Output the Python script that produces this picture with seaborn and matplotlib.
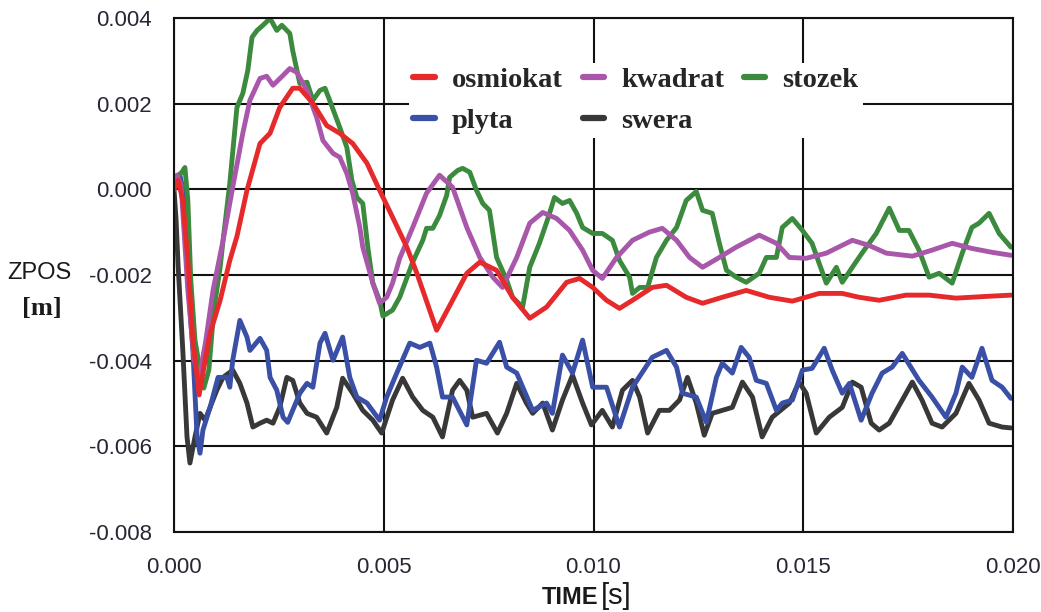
import numpy as np
import pandas as pd
import matplotlib
matplotlib.use("Agg")
import matplotlib.pyplot as plt
import seaborn as sns
from matplotlib.ticker import FormatStrFormatter, MultipleLocator

# Vertical position of each body over time (time in ms, position in mm)
osmiokat_t = [0, 0.1, 0.21, 0.33, 0.45, 0.6, 0.74, 0.86, 1.1, 1.33, 1.5, 1.74, 2.05, 2.29, 2.52,
              2.83, 3.0, 3.31, 3.64, 3.95, 4.26, 4.6, 4.9, 5.21, 5.55, 5.79, 6.26, 6.64, 6.98,
              7.29, 7.69, 8.07, 8.48, 8.88, 9.36, 9.67, 9.98, 10.31, 10.62, 10.93, 11.4, 11.74,
              12.21, 12.6, 13.07, 13.64, 14.19, 14.74, 15.38, 15.93, 16.33, 16.81, 17.45, 18.0,
              18.64, 19.36, 19.95]
osmiokat_z = [0, 0.21, -0.26, -1.66, -3.52, -4.8, -4.0, -3.36, -2.59, -1.66, -1.1, -0.02, 1.07,
              1.31, 1.91, 2.36, 2.36, 2.01, 1.49, 1.31, 1.07, 0.61, -0.02, -0.65, -1.35, -1.96,
              -3.29, -2.59, -1.96, -1.70, -1.89, -2.52, -3.01, -2.75, -2.17, -2.08, -2.29, -2.59,
              -2.78, -2.59, -2.29, -2.24, -2.52, -2.66, -2.52, -2.36, -2.52, -2.61, -2.43, -2.43,
              -2.52, -2.59, -2.47, -2.47, -2.54, -2.50, -2.47]

kwadrat_t = [0, 0.07, 0.17, 0.33, 0.48, 0.6, 0.76, 0.93, 1.17, 1.4, 1.64, 1.81, 2.05, 2.21, 2.36,
             2.6, 2.76, 2.93, 3.17, 3.4, 3.55, 3.79, 3.95, 4.12, 4.26, 4.43, 4.5, 4.74, 4.9, 5.07,
             5.21, 5.38, 5.69, 6.02, 6.33, 6.64, 6.98, 7.29, 7.6, 7.83, 8.17, 8.48, 8.79, 9.12,
             9.43, 9.74, 9.98, 10.21, 10.55, 10.93, 11.33, 11.64, 11.98, 12.29, 12.6, 13.0, 13.4,
             13.95, 14.36, 14.67, 15.07, 15.55, 16.17, 16.57, 16.98, 17.6, 18.07, 18.55, 19.02,
             19.5, 19.95]
kwadrat_z = [0, 0.33, 0.09, -2.36, -3.99, -4.41, -3.52, -2.36, -1.19, 0.05, 1.31, 2.08, 2.59,
             2.64, 2.43, 2.66, 2.82, 2.73, 2.31, 1.68, 1.14, 0.84, 0.75, 0.37, -0.09, -0.89,
             -1.35, -2.19, -2.66, -2.52, -2.19, -1.61, -0.89, -0.09, 0.33, 0.05, -0.89, -1.59,
             -2.05, -2.29, -1.59, -0.79, -0.54, -0.68, -0.96, -1.42, -1.89, -2.08, -1.59, -1.19,
             -1.0, -0.91, -1.19, -1.59, -1.82, -1.59, -1.35, -1.07, -1.26, -1.59, -1.61, -1.49,
             -1.19, -1.31, -1.49, -1.56, -1.42, -1.26, -1.38, -1.47, -1.54]

stozek_t = [0, 0.1, 0.19, 0.26, 0.33, 0.4, 0.5, 0.62, 0.71, 0.83, 0.95, 1.1, 1.17, 1.33, 1.5,
            1.64, 1.76, 1.86, 1.98, 2.12, 2.29, 2.45, 2.57, 2.76, 2.83, 2.93, 3.0, 3.17, 3.31,
            3.48, 3.6, 3.71, 3.95, 4.12, 4.24, 4.36, 4.5, 4.62, 4.74, 4.9, 4.98, 5.21, 5.38,
            5.69, 5.93, 6.02, 6.17, 6.33, 6.5, 6.57, 6.76, 6.88, 7.05, 7.21, 7.36, 7.52, 7.69,
            7.93, 8.07, 8.31, 8.48, 8.71, 8.9, 9.07, 9.26, 9.43, 9.6, 9.74, 9.98, 10.21, 10.45,
            10.62, 10.86, 10.93, 11.1, 11.29, 11.5, 11.74, 11.98, 12.21, 12.45, 12.6, 12.83,
            13.0, 13.17, 13.4, 13.64, 13.95, 14.12, 14.36, 14.5, 14.74, 14.98, 15.21, 15.38,
            15.55, 15.79, 15.93, 16.17, 16.4, 16.74, 17.05, 17.29, 17.52, 17.76, 18.0, 18.24,
            18.55, 18.79, 19.02, 19.19, 19.43, 19.67, 19.95]
stozek_z = [0, 0.33, 0.4, 0.51, -0.26, -2.12, -3.52, -4.22, -4.64, -4.22, -2.82, -1.82, -1.19,
            0.14, 1.91, 2.24, 2.78, 3.55, 3.71, 3.83, 3.99, 3.71, 3.83, 3.64, 3.24, 2.78, 2.47,
            2.5, 2.08, 2.31, 2.36, 2.08, 1.45, 0.98, 0.21, -0.19, -0.33, -1.35, -2.19, -2.59,
            -2.96, -2.82, -2.52, -1.70, -1.19, -0.91, -0.91, -0.61, -0.14, 0.28, 0.44, 0.49,
            0.40, -0.02, -0.33, -0.49, -1.59, -2.12, -2.52, -2.75, -1.82, -1.26, -0.72, -0.19,
            -0.33, -0.26, -0.56, -0.89, -1.03, -1.03, -1.19, -1.66, -2.05, -2.43, -2.29, -2.29,
            -1.59, -1.19, -0.89, -0.26, -0.05, -0.49, -0.56, -1.26, -1.89, -2.05, -2.17, -1.96,
            -1.59, -1.59, -0.89, -0.68, -0.96, -1.26, -1.73, -2.19, -1.82, -2.17, -1.82, -1.49,
            -1.03, -0.44, -0.96, -0.96, -1.42, -2.05, -1.96, -2.19, -1.49, -0.89, -0.79, -0.56,
            -1.03, -1.35]

plyta_t = [0, 0.07, 0.14, 0.24, 0.33, 0.45, 0.55, 0.62, 0.69, 0.86, 1.05, 1.26, 1.33, 1.4,
           1.57, 1.74, 1.81, 2.05, 2.21, 2.29, 2.45, 2.6, 2.71, 3.0, 3.17, 3.31, 3.48, 3.6,
           3.79, 4.02, 4.19, 4.36, 4.6, 4.9, 5.07, 5.31, 5.62, 5.86, 6.1, 6.26, 6.4, 6.64, 6.98,
           7.21, 7.45, 7.76, 7.93, 8.17, 8.55, 8.88, 9.02, 9.26, 9.5, 9.74, 9.98, 10.31, 10.62,
           10.93, 11.4, 11.74, 11.98, 12.12, 12.45, 12.69, 12.93, 13.07, 13.31, 13.52, 13.71,
           13.88, 14.12, 14.36, 14.5, 14.74, 14.98, 15.21, 15.5, 15.69, 15.93, 16.1, 16.38,
           16.64, 16.88, 17.12, 17.36, 17.76, 18.07, 18.4, 18.64, 18.79, 19.02, 19.26, 19.5,
           19.74, 19.95]
plyta_z = [0, 0.21, 0.33, -0.14, -2.12, -3.76, -5.78, -6.16, -5.62, -5.09, -4.39, -4.39, -4.62,
           -3.99, -3.06, -3.45, -3.76, -3.48, -3.76, -4.39, -4.69, -5.32, -5.44, -4.76, -4.53,
           -4.62, -3.59, -3.36, -3.99, -3.45, -4.39, -4.85, -4.99, -5.39, -4.85, -4.29, -3.59,
           -3.69, -3.59, -4.15, -4.85, -4.85, -5.50, -3.99, -4.06, -3.57, -4.15, -4.29, -5.16,
           -4.99, -5.23, -3.87, -4.29, -3.52, -4.62, -4.62, -5.55, -4.62, -3.92, -3.76, -4.15,
           -4.76, -4.85, -5.44, -4.39, -4.06, -4.29, -3.69, -3.92, -4.46, -4.53, -5.16, -4.99,
           -4.92, -4.22, -4.18, -3.71, -4.22, -4.76, -4.53, -5.39, -4.76, -4.29, -4.15, -3.83,
           -4.46, -4.85, -5.32, -4.76, -4.15, -4.39, -3.71, -4.46, -4.62, -4.88]

swera_t = [0, 0.05, 0.1, 0.21, 0.31, 0.38, 0.5, 0.62, 0.74, 0.86, 1.02, 1.17, 1.4, 1.57, 1.74,
           1.88, 2.05, 2.21, 2.36, 2.52, 2.69, 2.83, 3.0, 3.17, 3.4, 3.64, 3.88, 4.02, 4.26, 4.5,
           4.74, 4.95, 5.21, 5.45, 5.69, 5.93, 6.17, 6.4, 6.64, 6.81, 6.98, 7.12, 7.45, 7.71,
           7.93, 8.17, 8.4, 8.55, 8.79, 9.02, 9.26, 9.5, 9.74, 9.95, 10.21, 10.45, 10.69, 10.93,
           11.1, 11.29, 11.57, 11.81, 12.05, 12.24, 12.45, 12.64, 12.83, 13.07, 13.31, 13.55,
           13.79, 14.02, 14.26, 14.67, 14.9, 15.07, 15.31, 15.62, 15.93, 16.17, 16.38, 16.62,
           16.81, 17.05, 17.36, 17.6, 17.83, 18.07, 18.31, 18.64, 18.95, 19.19, 19.43, 19.74,
           19.95]
swera_z = [0, -0.72, -1.82, -3.76, -5.78, -6.39, -5.78, -5.23, -5.39, -5.09, -4.69, -4.39, -4.22,
           -4.53, -4.99, -5.55, -5.46, -5.39, -5.46, -5.09, -4.39, -4.46, -4.99, -5.23, -5.32,
           -5.69, -5.09, -4.41, -4.76, -5.16, -5.39, -5.69, -4.92, -4.41, -4.85, -5.16, -5.32,
           -5.78, -4.69, -4.46, -4.69, -5.32, -5.23, -5.69, -5.23, -4.53, -4.99, -5.23, -4.99,
           -5.62, -4.92, -4.34, -4.99, -5.50, -5.16, -5.55, -4.69, -4.46, -4.85, -5.69, -5.16,
           -5.16, -4.92, -4.39, -4.99, -5.74, -5.23, -5.16, -5.09, -4.50, -4.85, -5.78, -5.32,
           -4.99, -4.50, -4.76, -5.69, -5.32, -5.09, -4.50, -4.62, -5.46, -5.62, -5.46, -4.92,
           -4.50, -4.92, -5.46, -5.55, -5.23, -4.53, -4.92, -5.46, -5.55, -5.57]

series = {
    "swera": (swera_t, swera_z),
    "plyta": (plyta_t, plyta_z),
    "stozek": (stozek_t, stozek_z),
    "kwadrat": (kwadrat_t, kwadrat_z),
    "osmiokat": (osmiokat_t, osmiokat_z),
}
colors = {
    "osmiokat": "#e62a2c",
    "kwadrat": "#a957aa",
    "stozek": "#3b8a3e",
    "plyta": "#3a4fa6",
    "swera": "#383838",
}
legend_order = ["osmiokat", "plyta", "kwadrat", "swera", "stozek"]

frames = []
for name, (t, z) in series.items():
    frames.append(pd.DataFrame({"time": np.array(t) / 1000.0,
                                "zpos": np.array(z) / 1000.0,
                                "body": name}))
df = pd.concat(frames, ignore_index=True)

sns.set_style("white")
plt.rcParams["font.family"] = ["Liberation Sans", "DejaVu Sans"]
plt.rcParams["axes.unicode_minus"] = False

fig = plt.figure(figsize=(10.41, 6.12), dpi=100)
ax = fig.add_axes([174 / 1041, 1 - 532 / 612, (1013 - 174) / 1041, (532 - 18) / 612])

sns.lineplot(data=df, x="time", y="zpos", hue="body", hue_order=list(series.keys()),
             palette=colors, estimator=None, sort=False, linewidth=3.5, legend=False, ax=ax)

ax.set_xlim(0, 0.020)
ax.set_ylim(-0.008, 0.004)
ax.xaxis.set_major_locator(MultipleLocator(0.005))
ax.yaxis.set_major_locator(MultipleLocator(0.002))
ax.xaxis.set_major_formatter(FormatStrFormatter("%.3f"))
ax.yaxis.set_major_formatter(FormatStrFormatter("%.3f"))
ax.grid(True, color="#111111", linewidth=1.5)
ax.set_axisbelow(True)
for sp in ax.spines.values():
    sp.set_color("#111111")
    sp.set_linewidth(1.5)
ax.tick_params(axis="both", direction="out", length=7, width=1.5, color="#111111",
               labelsize=16, labelcolor="#262636")
ax.tick_params(axis="x", pad=11)
ax.tick_params(axis="y", pad=9)
ax.set_xlabel("")
ax.set_ylabel("")

# axis titles
fig.text(598 / 1041, 1 - 597 / 612, "TIME", ha="right", va="center", fontsize=17,
         fontweight="bold", color="#1a1a1a")
fig.text(601 / 1041, 1 - 596 / 612, "[s]", ha="left", va="center", fontsize=21,
         color="#1a1a1a")
fig.text(39 / 1041, 1 - 273 / 612, "ZPOS", ha="center", va="center", fontsize=17,
         color="#1a1a1a")
fig.text(42 / 1041, 1 - 308 / 612, "[m]", ha="center", va="center", fontsize=19,
         fontweight="bold", family="Liberation Serif", color="#1a1a1a")

handles = [plt.Line2D([], [], color=colors[n], linewidth=4.5) for n in legend_order]
leg = ax.legend(handles, legend_order, ncol=3, loc="upper left",
                bbox_to_anchor=(409 / 1041, 1 - 63 / 612), bbox_transform=fig.transFigure,
                borderaxespad=0, frameon=True, fancybox=False, framealpha=1,
                facecolor="white", edgecolor="none", handlelength=0.75,
                handletextpad=0.6, columnspacing=0.7, labelspacing=0.52, borderpad=0.15,
                prop={"family": "Liberation Serif", "weight": "bold", "size": 20.5})
leg.set_zorder(10)

fig.savefig("out.png", dpi=100)
